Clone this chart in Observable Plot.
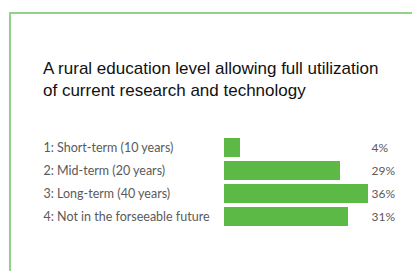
<!DOCTYPE html>
<html>
<head>
<meta charset="utf-8">
<script src="https://cdn.jsdelivr.net/npm/d3@7"></script>
<script src="https://cdn.jsdelivr.net/npm/@observablehq/plot@0.6"></script>
<style>
  html, body { margin: 0; padding: 0; background: #fff; }
  #wrap { position: relative; width: 412px; height: 271px; overflow: hidden; background: #fff; }
  #frame { position: absolute; left: 9px; top: 12px; width: 410px; height: 270px;
           border-top: 2px solid #92d08b; border-left: 2px solid #92d08b; }
  #title { position: absolute; left: 43px; top: 58px; width: 370px; white-space: nowrap;
           font-family: "Liberation Sans", Arial, sans-serif; font-size: 17px;
           line-height: 22px; color: #111; }
  #chart { position: absolute; left: 0; top: 0; }
</style>
</head>
<body>
<div id="wrap">
  <div id="frame"></div>
  <div id="title">A rural education level allowing full utilization<br>of current research and technology</div>
  <div id="chart"></div>
</div>
<script>
const categories = ["1: Short-term (10 years)", "2: Mid-term (20 years)", "3: Long-term (40 years)", "4: Not in the forseeable future"];
const values = [4, 29, 36, 31];
const valueLabels = ["4%", "29%", "36%", "31%"];

const data = categories.map((c, i) => ({category: c, value: values[i], label: valueLabels[i]}));

const chart = Plot.plot({
  width: 412,
  height: 271,
  marginLeft: 224,
  marginRight: 44,
  marginTop: 137,
  marginBottom: 44,
  x: {domain: [0, 36], axis: null},
  y: {domain: categories, axis: null, paddingInner: 0.18, paddingOuter: 0},
  style: {background: "transparent", fontFamily: "Lato, sans-serif"},
  marks: [
    Plot.barX(data, {x: "value", y: "category", fill: "#5cb946"}),
    Plot.text(data, {y: "category", text: "category", frameAnchor: "left", textAnchor: "start", dx: -181,
      fill: "#5a5a5a", fontSize: 12.5}),
    Plot.text(data, {y: "category", text: "label", frameAnchor: "right", textAnchor: "start", dx: 3,
      fill: "#5a5a5a", fontSize: 12})
  ]
});
document.getElementById("chart").appendChild(chart);
</script>
</body>
</html>
